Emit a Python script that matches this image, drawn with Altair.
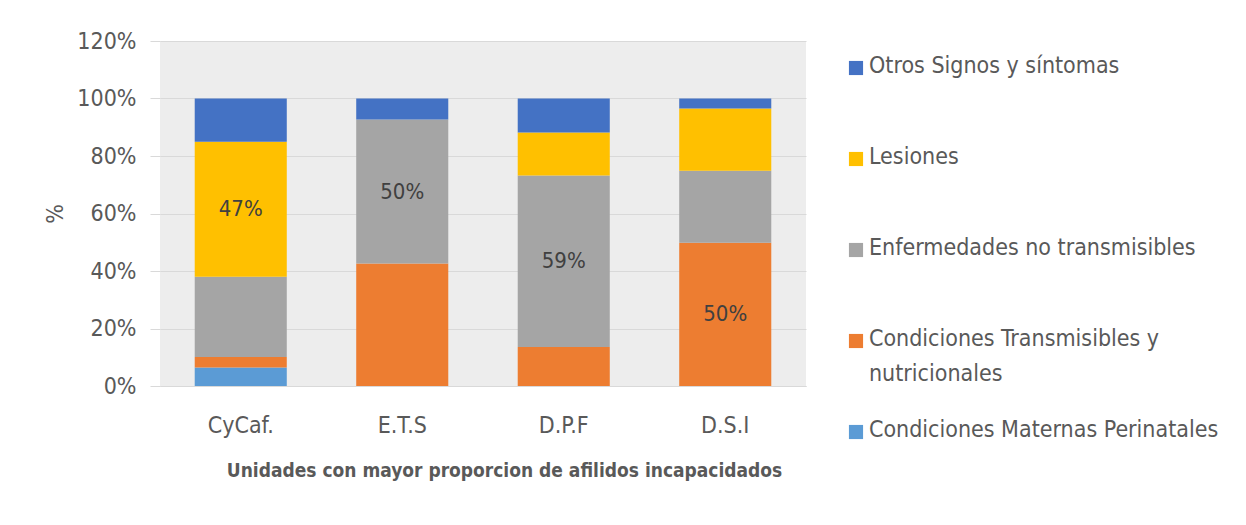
import altair as alt
import pandas as pd

units = ["CyCaf.", "E.T.S", "D.P.F", "D.S.I"]
series = [
    "Condiciones Maternas Perinatales",
    "Condiciones Transmisibles y nutricionales",
    "Enfermedades no transmisibles",
    "Lesiones",
    "Otros Signos y síntomas",
]
maternas = [6.4, 0.0, 0.0, 0.0]
transmisibles = [3.7, 42.6, 13.6, 49.8]
enfermedades = [27.9, 50.1, 59.6, 25.1]
lesiones = [47.0, 0.0, 15.0, 21.6]
otros = [15.0, 7.3, 11.8, 3.5]
labels_maternas = ["", "", "", ""]
labels_transmisibles = ["", "", "", "50%"]
labels_enfermedades = ["", "50%", "59%", ""]
labels_lesiones = ["47%", "", "", ""]
labels_otros = ["", "", "", ""]
colors = ["#5B9BD5", "#ED7D31", "#A5A5A5", "#FFC000", "#4472C4"]
legend_text = [
    "Condiciones Maternas Perinatales",
    "Condiciones Transmisibles y\nnutricionales",
    "Enfermedades no transmisibles",
    "Lesiones",
    "Otros Signos y síntomas",
]
y_ticks = [0, 20, 40, 60, 80, 100, 120]

values = [maternas, transmisibles, enfermedades, lesiones, otros]
labels = [labels_maternas, labels_transmisibles, labels_enfermedades, labels_lesiones, labels_otros]
rows = []
for si, s in enumerate(series):
    for ui, u in enumerate(units):
        rows.append({"unit": u, "series": s, "order": si, "value": values[si][ui], "label": labels[si][ui]})
df = pd.DataFrame(rows)

FONT = "DejaVu Sans Condensed, DejaVu Sans, sans-serif"
GREY = "#595959"

color_scale = alt.Scale(domain=series, range=colors)

base = alt.Chart(df).transform_stack(
    stack="value", groupby=["unit"], sort=[alt.SortField("order")], as_=["v0", "v1"]
).transform_calculate(mid="(datum.v0 + datum.v1) / 2")

x_enc = alt.X(
    "unit:N", sort=units,
    scale=alt.Scale(paddingInner=0.43, paddingOuter=0.215),
    axis=alt.Axis(
        title="Unidades con mayor proporcion de afilidos incapacidados",
        labelAngle=0, labelFontSize=23, labelColor=GREY, labelFont=FONT,
        labelPadding=28, ticks=False, domainColor="#D9D9D9",
        titleFont=FONT, titleFontSize=19, titleFontWeight="bold", titleColor=GREY,
        titlePadding=24, titleX=344, titleAlign="center",
    ),
)

bars = base.mark_bar().encode(
    x=x_enc,
    y=alt.Y(
        "v0:Q",
        scale=alt.Scale(domain=[0, 120]),
        axis=alt.Axis(
            values=y_ticks, labelExpr="datum.value + '%'", title="%",
            labelFontSize=23, labelColor=GREY, labelFont=FONT, labelPadding=14,
            tickSize=10, tickColor="#D9D9D9", domain=False, gridColor="#D9D9D9",
            titleFont=FONT, titleFontSize=23, titleColor=GREY, titleFontWeight="normal",
            titlePadding=9,
        ),
    ),
    y2="v1:Q",
    color=alt.Color("series:N", scale=color_scale, legend=None),
)

text = base.transform_filter("datum.label != ''").mark_text(
    font=FONT, fontSize=22, color="#404040"
).encode(x=alt.X("unit:N", sort=units), y=alt.Y("mid:Q"), text="label:N")

main = alt.layer(bars, text).properties(
    width=646, height=345, view=alt.ViewBackground(fill="#EDEDED", stroke=None)
)

leg_df = pd.DataFrame({"series": series, "text": legend_text})
leg_y = alt.Y("series:N", sort=series[::-1],
              scale=alt.Scale(type="point", range=[27, 391], padding=0), axis=None)
leg_sq = alt.Chart(leg_df).mark_square(size=200, opacity=1).encode(
    x=alt.value(10), y=leg_y, color=alt.Color("series:N", scale=color_scale, legend=None)
)
leg_tx = alt.Chart(leg_df).mark_text(
    font=FONT, fontSize=23, color=GREY, align="left", baseline="top", dy=-13,
    lineBreak="\n", lineHeight=35
).encode(x=alt.value(23), y=leg_y, text="text:N")
legend = alt.layer(leg_sq, leg_tx).properties(
    width=370, height=345, view=alt.ViewBackground(fill="white", stroke=None)
)

chart = alt.hconcat(main, legend, spacing=40).configure_view(
    stroke=None
).configure(padding={"left": 36, "top": 22, "right": 0, "bottom": 5}, background="white")

chart.save("out.html", embed_options={"renderer": "svg", "actions": False})
